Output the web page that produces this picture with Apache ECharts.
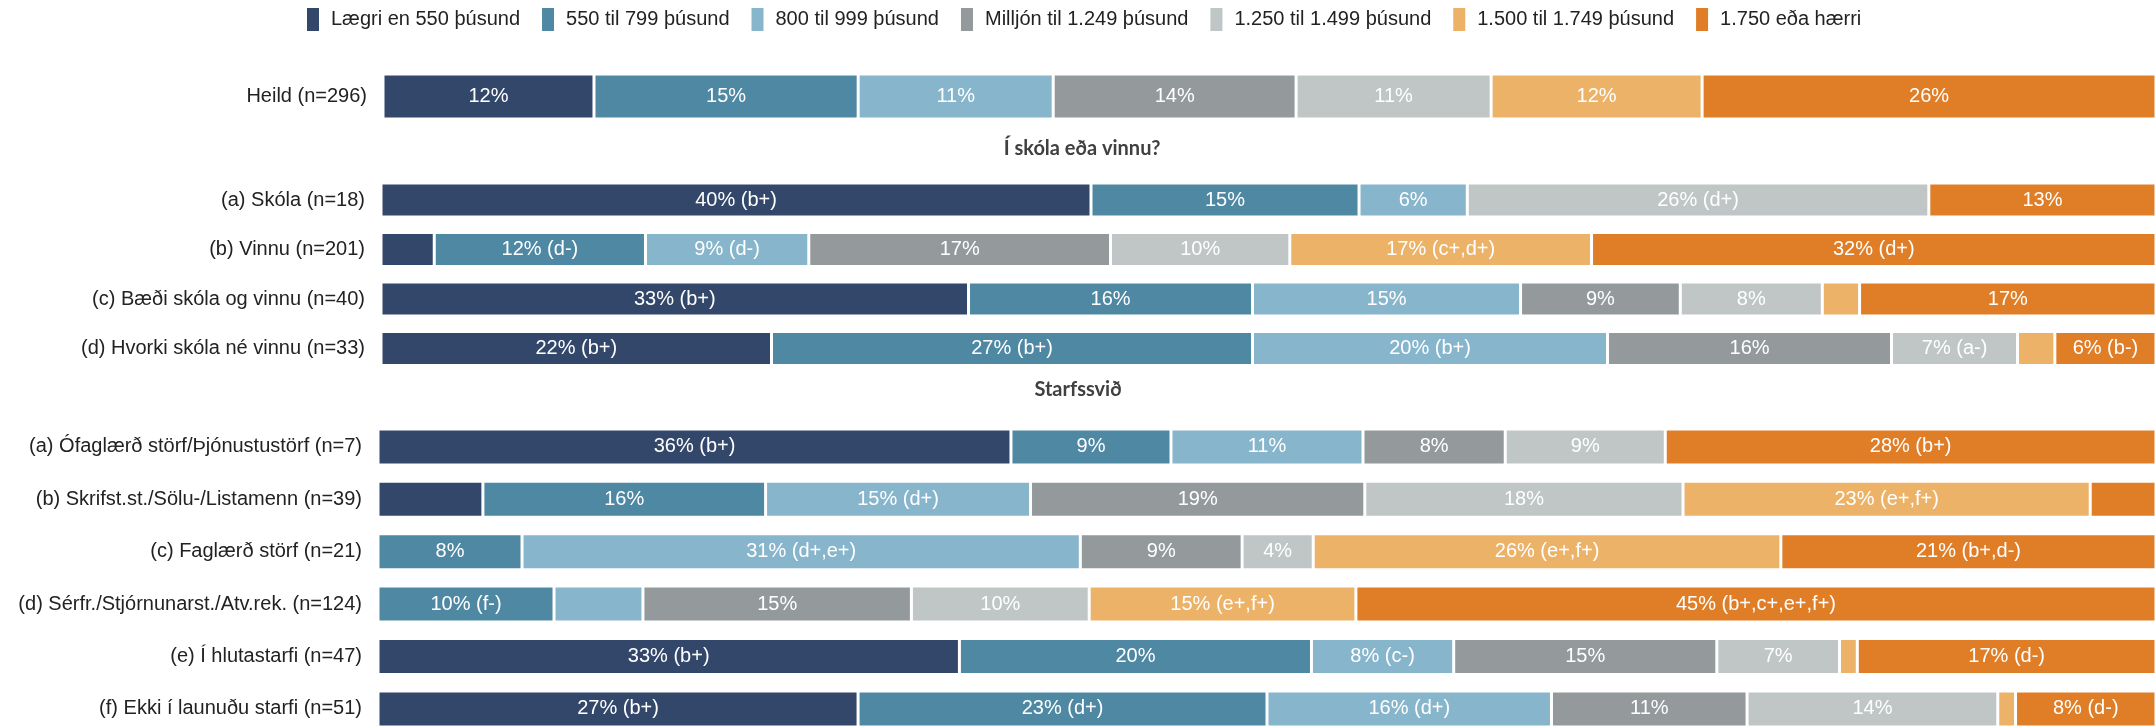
<!DOCTYPE html>
<html>
<head>
<meta charset="utf-8">
<title>Tekjur eftir stöðu</title>
<script src="https://cdn.jsdelivr.net/npm/echarts@6/dist/echarts.min.js"></script>
<style>
  html, body { margin: 0; padding: 0; background: #fff; }
  #chart { width: 2156px; height: 727px; }
</style>
</head>
<body>
<div id="chart"></div>
<script>
// Income bands (legend order, left to right in each bar)
const incomeBands = [
  'Lægri en 550 þúsund',
  '550 til 799 þúsund',
  '800 til 999 þúsund',
  'Milljón til 1.249 þúsund',
  '1.250 til 1.499 þúsund',
  '1.500 til 1.749 þúsund',
  '1.750 eða hærri'
];
const bandColors = ['#33476a', '#4f88a3', '#87b5cc', '#949a9c', '#bfc6c5', '#ecb267', '#e07e28'];

// Section headings
const sectionTitles = ['Í skóla eða vinnu?', 'Starfssvið'];

// Whole sample
const totalLabels = ['Heild (n=296)'];
const totalShares = [
  [11.9, 14.9, 11.0, 13.7, 11.0, 11.9, 25.6]
];
const totalNotes = [
  ['', '', '', '', '', '', '']
];

// In school or at work
const schoolLabels = [
  '(a) Skóla (n=18)',
  '(b) Vinnu (n=201)',
  '(c) Bæði skóla og vinnu (n=40)',
  '(d) Hvorki skóla né vinnu (n=33)'
];
const schoolShares = [
  [40.0, 15.1, 6.1, 0, 26.0, 0, 12.8],
  [3.0, 11.9, 9.2, 17.0, 10.1, 17.0, 31.8],
  [33.1, 16.0, 15.1, 9.0, 8.0, 2.1, 16.7],
  [22.0, 27.1, 20.0, 16.0, 7.1, 2.1, 5.7]
];
// null = segment left without a label
const schoolNotes = [
  ['(b+)', '', '', '', '(d+)', '', ''],
  [null, '(d-)', '(d-)', '', '', '(c+,d+)', '(d+)'],
  ['(b+)', '', '', '', '', null, ''],
  ['(b+)', '(b+)', '(b+)', '', '(a-)', null, '(b-)']
];

// Occupation
const jobLabels = [
  '(a) Ófaglærð störf/Þjónustustörf (n=7)',
  '(b) Skrifst.st./Sölu-/Listamenn (n=39)',
  '(c) Faglærð störf (n=21)',
  '(d) Sérfr./Stjórnunarst./Atv.rek. (n=124)',
  '(e) Í hlutastarfi (n=47)',
  '(f) Ekki í launuðu starfi (n=51)'
];
const jobShares = [
  [35.6, 9.0, 10.8, 8.0, 9.0, 0, 27.6],
  [5.9, 15.9, 14.9, 18.8, 17.9, 22.9, 3.7],
  [0, 8.1, 31.4, 9.1, 4.0, 26.3, 21.1],
  [0, 9.9, 5.0, 15.1, 10.0, 15.0, 45.0],
  [32.7, 19.8, 8.0, 14.8, 6.9, 1.0, 16.8],
  [27.0, 23.0, 16.0, 11.0, 14.1, 1.0, 7.9]
];
const jobNotes = [
  ['(b+)', '', '', '', '', '', '(b+)'],
  [null, '', '(d+)', '', '', '(e+,f+)', null],
  ['', '', '(d+,e+)', '', '', '(e+,f+)', '(b+,d-)'],
  ['', '(f-)', null, '', '', '(e+,f+)', '(b+,c+,e+,f+)'],
  ['(b+)', '', '(c-)', '', '', null, '(d-)'],
  ['(b+)', '(d+)', '(d+)', '', '', null, '(d-)']
];

const FONT = '"Liberation Sans", Arial, sans-serif';

// One grid per block of bars; the last block runs past the bottom edge
const blocks = [
  { labels: totalLabels,  shares: totalShares,  notes: totalNotes,  grid: { left: 383, right: 0, top: 74,    height: 45 },    barWidth: 45 },
  { labels: schoolLabels, shares: schoolShares, notes: schoolNotes, grid: { left: 381, right: 0, top: 175.3, height: 198 },   barWidth: 34 },
  { labels: jobLabels,    shares: jobShares,    notes: jobNotes,    grid: { left: 378, right: 0, top: 420.7, height: 314.4 }, barWidth: 36 }
];

const grids = [], xAxes = [], yAxes = [], series = [];
blocks.forEach((blk, gi) => {
  grids.push(Object.assign({ containLabel: false, outerBoundsMode: 'none' }, blk.grid));
  xAxes.push({ type: 'value', gridIndex: gi, min: 0, max: 100, show: false });
  yAxes.push({
    type: 'category', gridIndex: gi, inverse: true, data: blk.labels,
    axisLine: { show: false }, axisTick: { show: false }, splitLine: { show: false },
    axisLabel: { fontSize: 20, color: '#222', fontFamily: FONT, margin: 16 }
  });
  incomeBands.forEach((band, b) => {
    series.push({
      type: 'bar', name: band, stack: 'blk' + gi,
      xAxisIndex: gi, yAxisIndex: gi,
      barWidth: blk.barWidth,
      itemStyle: { color: bandColors[b], borderColor: '#ffffff', borderWidth: 1.5 },
      label: { position: 'inside', color: '#fff', fontSize: 20, fontFamily: FONT },
      emphasis: { disabled: true },
      data: blk.shares.map((row, ri) => {
        const v = row[b];
        const note = blk.notes[ri][b];
        if (!v) return { value: '-' };
        return {
          value: v,
          label: {
            show: note !== null,
            formatter: Math.round(v) + '%' + (note ? ' ' + note : '')
          }
        };
      })
    });
  });
});

const chart = echarts.init(document.getElementById('chart'), null, { renderer: 'canvas' });
chart.setOption({
  animation: false,
  backgroundColor: '#fff',
  legend: {
    data: incomeBands,
    left: 305, top: 6, padding: 0,
    icon: 'rect',
    itemWidth: 14, itemHeight: 25, itemGap: 20,
    selectedMode: false,
    textStyle: { fontSize: 20, color: '#222', fontFamily: FONT, padding: [0, 0, 0, 6] }
  },
  grid: grids,
  xAxis: xAxes,
  yAxis: yAxes,
  series: series,
  graphic: [
    { type: 'text', x: 1082, y: 149, style: { text: sectionTitles[0], textAlign: 'center', textVerticalAlign: 'middle', font: 'bold 20px Lato, "Open Sans", sans-serif', fill: '#404040' } },
    { type: 'text', x: 1078, y: 390, style: { text: sectionTitles[1], textAlign: 'center', textVerticalAlign: 'middle', font: 'bold 20px Lato, "Open Sans", sans-serif', fill: '#404040' } }
  ]
});
</script>
</body>
</html>
